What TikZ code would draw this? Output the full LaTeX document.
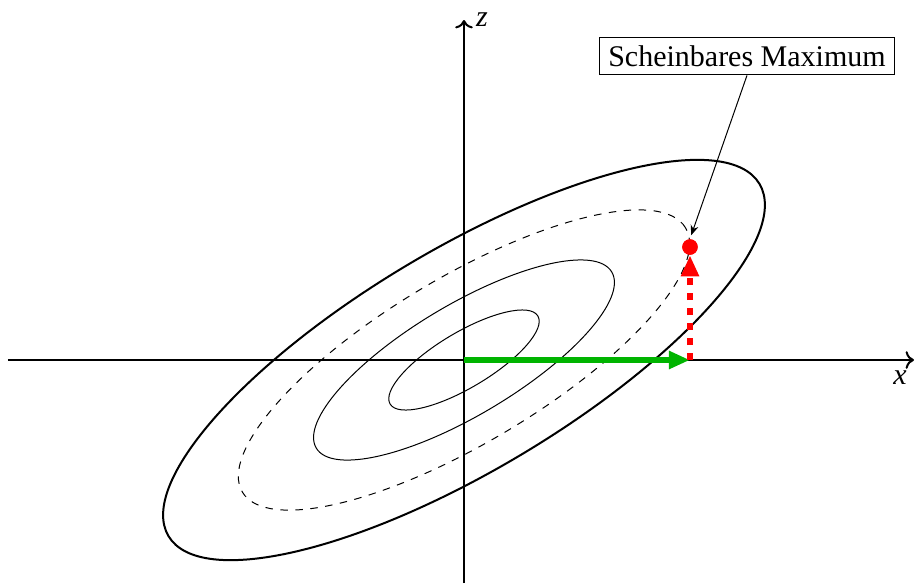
\documentclass[tikz,border=0pt]{standalone}
\usepackage{fontspec}
\setmainfont{Liberation Serif}
\usetikzlibrary{arrows.meta}
\begin{document}
\begin{tikzpicture}[x=0.4pt,y=0.4pt,
  axis/.style={thick,->},
  outerell/.style={thick},
  innerell/.style={thin},
  dashell/.style={thin,dashed},
  lbl/.style={font=\fontsize{12}{14}\selectfont},
  greenarrow/.style={line width=2.2pt,draw={rgb,255:red,0;green,180;blue,0},-{Triangle[length=8.4pt,width=6.8pt]}},
  redarrow/.style={line width=2.2pt,draw=red,dashed,-{Triangle[length=8.4pt,width=6.8pt]}},
  reddot/.style={circle,fill=red,inner sep=0pt,minimum size=6.2pt},
  annot/.style={thin,-{Stealth[length=4pt,width=3.2pt]}},
  boxnode/.style={draw,thin,font=\fontsize{12}{14}\selectfont,inner sep=3.33pt}
]
\useasboundingbox (-464,-223) rectangle (451,360);
% axes
\coordinate (xs) at (-456,0);
\coordinate (xe) at (450,0);
\coordinate (zs) at (0,-223);
\coordinate (ze) at (0,340);
\coordinate (O) at (0,0);
\coordinate (P) at (226,0);
\draw[axis] (xs) -- (xe);
\draw[axis] (zs) -- (ze);
\node[lbl,font=\fontsize{12}{14}\selectfont\itshape] (xl) at (436,-18) {x};
\node[lbl,font=\fontsize{12}{14}\selectfont\itshape] (zl) at (18,340) {z};
% ellipses
\begin{scope}[rotate=30.8]
\draw[outerell] (O) ellipse [x radius=344, y radius=110.6];
\draw[dashell] (O) ellipse [x radius=258, y radius=82.95];
\draw[innerell] (O) ellipse [x radius=172, y radius=55.3];
\draw[innerell] (O) ellipse [x radius=86, y radius=27.65];
\end{scope}
% arrows
\node[reddot] (dot) at (226,113) {};
\draw[greenarrow] (O) -- (P);
\draw[redarrow] (P) -- (dot) ;
\node[reddot] (dot2) at (dot) {};
% annotation
\node[boxnode] (box) at (283,304) {Scheinbares Maximum};
\draw[annot] (box.south) -- (dot.north) [shorten >=1.5pt];
\end{tikzpicture}
\end{document}
